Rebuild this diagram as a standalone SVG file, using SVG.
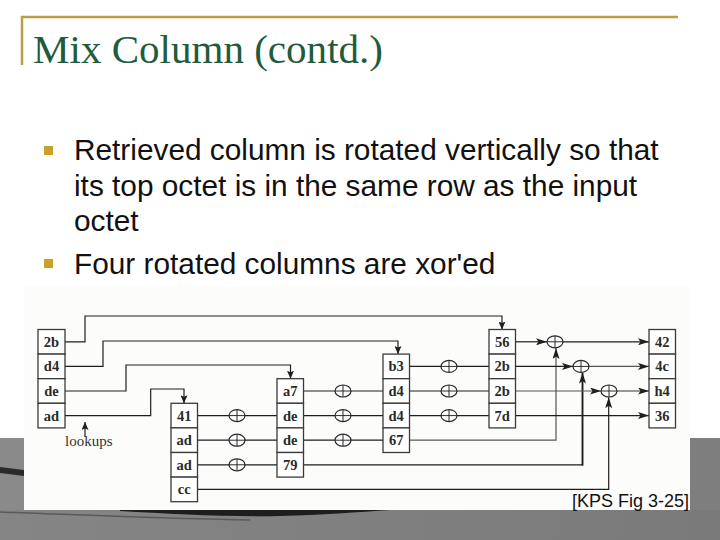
<svg xmlns="http://www.w3.org/2000/svg" width="720" height="540" viewBox="0 0 720 540">
<defs>
<style>
.title{font-family:"Liberation Serif","Times New Roman",serif;font-size:39px;fill:#1f5b3c}
.bul{font-family:"Liberation Sans",Arial,sans-serif;font-size:29.8px;fill:#111}
.sq{fill:#c9a227}
.cell{fill:#fff;stroke:#3a3a3a;stroke-width:1.3}
.lbl{font-family:"Liberation Serif","Times New Roman",serif;font-weight:bold;font-size:14.5px;fill:#2a2a2a;text-anchor:middle}
.wire{fill:none;stroke:#1e1e1e;stroke-width:1.2}
.gw{fill:none;stroke:#555;stroke-width:1.2}
.thick{fill:none;stroke:#1e1e1e;stroke-width:1.9}
.xe{fill:#fff;stroke:#2a2a2a;stroke-width:1.2}
.xp{stroke:#2a2a2a;stroke-width:1}
.note{font-family:"Liberation Serif","Times New Roman",serif;font-size:15px;fill:#333}
.cap{font-family:"Liberation Sans",Arial,sans-serif;font-size:18px;fill:#111}
</style>
<marker id="ah" viewBox="0 0 11 7" refX="11" refY="3.5" markerWidth="11" markerHeight="7" orient="auto" markerUnits="userSpaceOnUse"><path d="M0,0 L11,3.5 L0,7 L2.5,3.5 z" fill="#1e1e1e"/></marker>
<marker id="ad" viewBox="0 0 8 7" refX="8" refY="3.5" markerWidth="8" markerHeight="7" orient="auto" markerUnits="userSpaceOnUse"><path d="M0,0 L8,3.5 L0,7 L1.5,3.5 z" fill="#1e1e1e"/></marker>
<linearGradient id="gr" x1="0" y1="0" x2="1" y2="0"><stop offset="0" stop-color="#858585"/><stop offset="1" stop-color="#7a7a7a"/></linearGradient>
</defs>
<rect width="720" height="540" fill="#fff"/>
<!-- photographic gray surround -->
<g id="surround">
<rect x="0" y="438" width="24" height="102" fill="#8a8a8a"/>
<rect x="690" y="438" width="30" height="102" fill="#7e7e7e"/>
<rect x="0" y="510" width="720" height="30" fill="url(#gr)"/>
<path d="M0,467 C8,468 16,469 24,470 L24,476 C16,475 8,474 0,473 z" fill="#2a2a2a"/>
<path d="M120,510 L390,510 C360,512 320,515 280,516 C230,517 170,514 120,511 z" fill="#1e1e1e"/>
<path d="M0,512 C60,514 140,518 250,520" fill="none" stroke="#5a5a5a" stroke-width="1.5"/>
</g>
<rect x="24" y="287" width="666" height="223" fill="#fcfcfb"/>
<!-- slide header -->
<g id="header">
<path d="M22,65 V17 H678" fill="none" stroke="#b8a048" stroke-width="2.5"/>
<text class="title" x="33" y="63" textLength="350" lengthAdjust="spacingAndGlyphs">Mix Column (contd.)</text>
</g>
<g id="bullets">
<rect class="sq" x="44" y="146" width="9" height="9"/>
<text class="bul" x="74" y="160">Retrieved column is rotated vertically so that</text>
<text class="bul" x="74" y="196">its top octet is in the same row as the input</text>
<text class="bul" x="74" y="231">octet</text>
<rect class="sq" x="44" y="259" width="9" height="9"/>
<text class="bul" x="74" y="274">Four rotated columns are xor'ed</text>
</g>
<!-- connectors -->
<g id="connectors">
<path class="wire" d="M65,341.8 H85 V316 H502 V329.5" marker-end="url(#ad)"/>
<path class="wire" d="M65,366.4 H103 V341 H398 V354.1" marker-end="url(#ad)"/>
<path class="wire" d="M65,391 H126 V365 H290.5 V378.7" marker-end="url(#ad)"/>
<path class="wire" d="M65,415.6 H150.7 V389 H184 V403.3" marker-end="url(#ad)"/>
<path class="wire" d="M85,437 V422" marker-end="url(#ad)"/>
<!-- col1 to col2 -->
<path class="wire" d="M197,415.6 H277"/>
<path class="wire" d="M197,440.2 H277"/>
<path class="wire" d="M197,464.8 H277"/>
<!-- col2 to col3 -->
<path class="wire" d="M303,391 H383"/>
<path class="wire" d="M303,415.6 H383"/>
<path class="wire" d="M303,440.2 H383"/>
<!-- col3 to col4 -->
<path class="wire" d="M409,366.4 H489"/>
<path class="wire" d="M409,391 H489"/>
<path class="wire" d="M409,415.6 H489"/>
<!-- long feeds -->
<path class="gw" d="M409,440.2 H556 V348" marker-end="url(#ah)"/>
<path class="wire" d="M303,464.8 H582.5"/>
<path class="thick" d="M582.5,465.7 V372.6" marker-end="url(#ah)"/>
<path class="wire" d="M197,489.4 H608.7 V397.2" marker-end="url(#ah)"/>
<!-- final stage -->
<path class="wire" d="M516,341.8 H547" marker-end="url(#ah)"/>
<path class="wire" d="M563,341.8 H649" marker-end="url(#ah)"/>
<path class="wire" d="M516,366.4 H573" marker-end="url(#ah)"/>
<path class="gw" d="M589,366.4 H649" marker-end="url(#ah)"/>
<path class="gw" d="M516,391 H601" marker-end="url(#ah)"/>
<path class="gw" d="M617,391 H649" marker-end="url(#ah)"/>
<path class="wire" d="M516,415.6 H649" marker-end="url(#ah)"/>
</g>
<!-- columns -->
<g id="col-input">
<rect class="cell" x="38" y="329.5" width="27" height="24.6"/><text class="lbl" x="51.5" y="346.8">2b</text>
<rect class="cell" x="38" y="354.1" width="27" height="24.6"/><text class="lbl" x="51.5" y="371.4">d4</text>
<rect class="cell" x="38" y="378.7" width="27" height="24.6"/><text class="lbl" x="51.5" y="396">de</text>
<rect class="cell" x="38" y="403.3" width="27" height="24.6"/><text class="lbl" x="51.5" y="420.6">ad</text>
</g>
<g id="lookups-label"><text class="note" x="65" y="446">lookups</text></g>
<g id="col-1">
<rect class="cell" x="171" y="403.3" width="26.5" height="24.6"/><text class="lbl" x="184.2" y="420.6">41</text>
<rect class="cell" x="171" y="427.9" width="26.5" height="24.6"/><text class="lbl" x="184.2" y="445.2">ad</text>
<rect class="cell" x="171" y="452.5" width="26.5" height="24.6"/><text class="lbl" x="184.2" y="469.8">ad</text>
<rect class="cell" x="171" y="477.1" width="26.5" height="24.6"/><text class="lbl" x="184.2" y="494.4">cc</text>
</g>
<g id="col-2">
<rect class="cell" x="277" y="378.7" width="26.5" height="24.6"/><text class="lbl" x="290.2" y="396">a7</text>
<rect class="cell" x="277" y="403.3" width="26.5" height="24.6"/><text class="lbl" x="290.2" y="420.6">de</text>
<rect class="cell" x="277" y="427.9" width="26.5" height="24.6"/><text class="lbl" x="290.2" y="445.2">de</text>
<rect class="cell" x="277" y="452.5" width="26.5" height="24.6"/><text class="lbl" x="290.2" y="469.8">79</text>
</g>
<g id="col-3">
<rect class="cell" x="383" y="354.1" width="26.5" height="24.6"/><text class="lbl" x="396.2" y="371.4">b3</text>
<rect class="cell" x="383" y="378.7" width="26.5" height="24.6"/><text class="lbl" x="396.2" y="396">d4</text>
<rect class="cell" x="383" y="403.3" width="26.5" height="24.6"/><text class="lbl" x="396.2" y="420.6">d4</text>
<rect class="cell" x="383" y="427.9" width="26.5" height="24.6"/><text class="lbl" x="396.2" y="445.2">67</text>
</g>
<g id="col-4">
<rect class="cell" x="489" y="329.5" width="26.5" height="24.6"/><text class="lbl" x="502.2" y="346.8">56</text>
<rect class="cell" x="489" y="354.1" width="26.5" height="24.6"/><text class="lbl" x="502.2" y="371.4">2b</text>
<rect class="cell" x="489" y="378.7" width="26.5" height="24.6"/><text class="lbl" x="502.2" y="396">2b</text>
<rect class="cell" x="489" y="403.3" width="26.5" height="24.6"/><text class="lbl" x="502.2" y="420.6">7d</text>
</g>
<g id="col-out">
<rect class="cell" x="649" y="329.5" width="26.5" height="24.6"/><text class="lbl" x="662.2" y="346.8">42</text>
<rect class="cell" x="649" y="354.1" width="26.5" height="24.6"/><text class="lbl" x="662.2" y="371.4">4c</text>
<rect class="cell" x="649" y="378.7" width="26.5" height="24.6"/><text class="lbl" x="662.2" y="396">h4</text>
<rect class="cell" x="649" y="403.3" width="26.5" height="24.6"/><text class="lbl" x="662.2" y="420.6">36</text>
</g>
<!-- xor nodes -->
<g id="xors">
<g id="xa1"><ellipse class="xe" cx="237" cy="415.6" rx="8" ry="6"/><path class="xp" d="M229,415.6 H245 M237,409.6 V421.6"/></g>
<g id="xa2"><ellipse class="xe" cx="237" cy="440.2" rx="8" ry="6"/><path class="xp" d="M229,440.2 H245 M237,434.2 V446.2"/></g>
<g id="xa3"><ellipse class="xe" cx="237" cy="464.8" rx="8" ry="6"/><path class="xp" d="M229,464.8 H245 M237,458.8 V470.8"/></g>
<g id="xb1"><ellipse class="xe" cx="343" cy="391" rx="8" ry="6"/><path class="xp" d="M335,391 H351 M343,385 V397"/></g>
<g id="xb2"><ellipse class="xe" cx="343" cy="415.6" rx="8" ry="6"/><path class="xp" d="M335,415.6 H351 M343,409.6 V421.6"/></g>
<g id="xb3"><ellipse class="xe" cx="343" cy="440.2" rx="8" ry="6"/><path class="xp" d="M335,440.2 H351 M343,434.2 V446.2"/></g>
<g id="xc1"><ellipse class="xe" cx="449" cy="366.4" rx="8" ry="6"/><path class="xp" d="M441,366.4 H457 M449,360.4 V372.4"/></g>
<g id="xc2"><ellipse class="xe" cx="449" cy="391" rx="8" ry="6"/><path class="xp" d="M441,391 H457 M449,385 V397"/></g>
<g id="xc3"><ellipse class="xe" cx="449" cy="415.6" rx="8" ry="6"/><path class="xp" d="M441,415.6 H457 M449,409.6 V421.6"/></g>
<g id="xf1"><ellipse class="xe" cx="555" cy="341.8" rx="8" ry="6"/><path class="xp" d="M547,341.8 H563 M555,335.8 V347.8"/></g>
<g id="xf2"><ellipse class="xe" cx="581" cy="366.4" rx="8" ry="6"/><path class="xp" d="M573,366.4 H589 M581,360.4 V372.4"/></g>
<g id="xf3"><ellipse class="xe" cx="609" cy="391" rx="8" ry="6"/><path class="xp" d="M601,391 H617 M609,385 V397"/></g>
</g>
<g id="caption"><text class="cap" x="572" y="507">[KPS Fig 3-25]</text></g>
</svg>
